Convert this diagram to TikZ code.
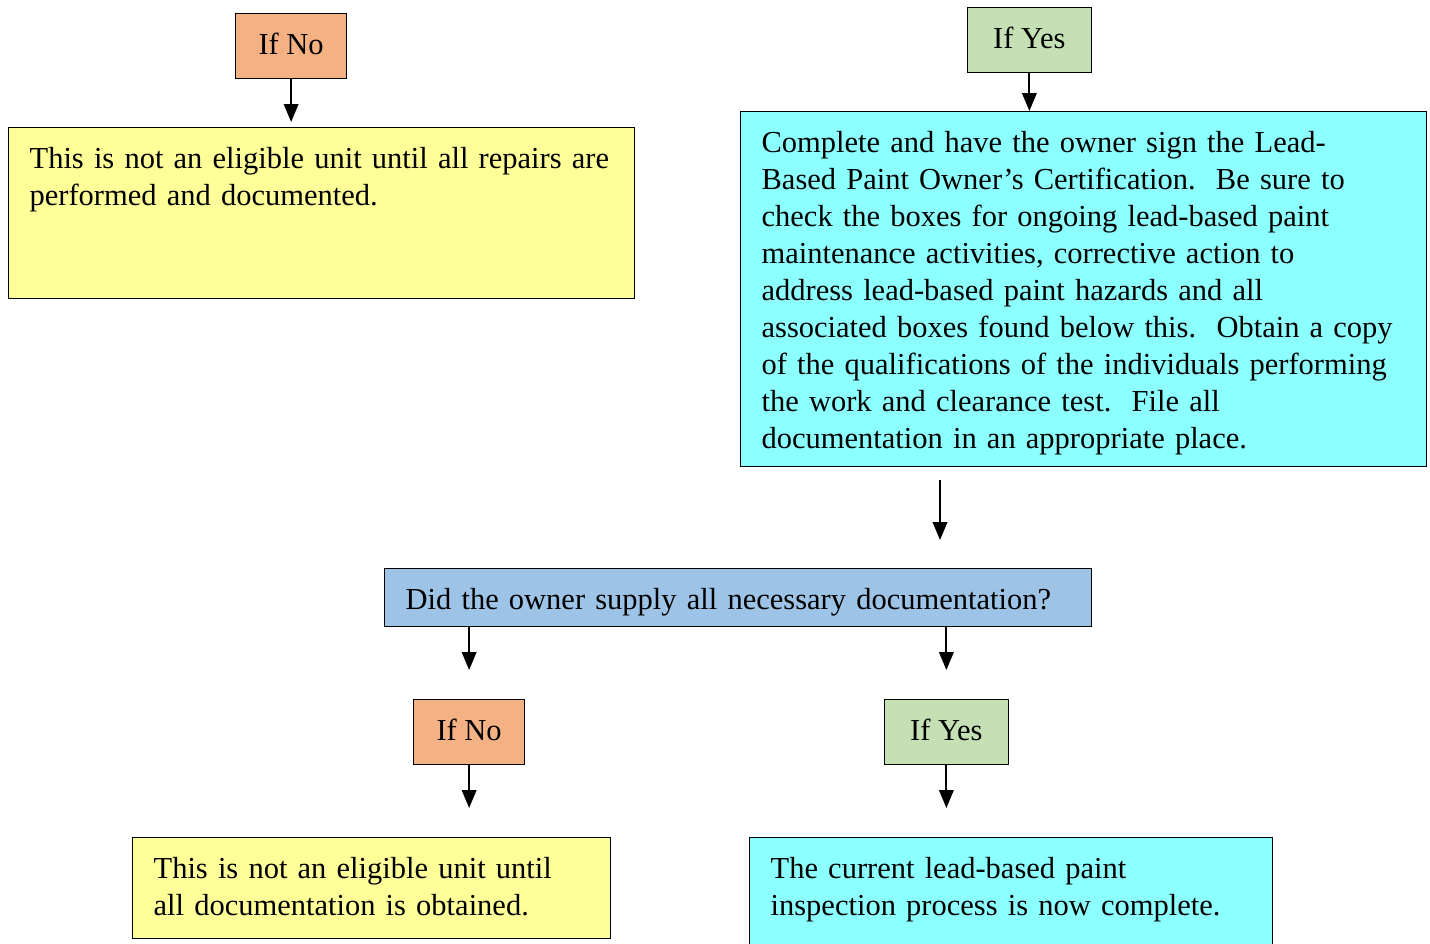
\documentclass[tikz,border=0pt]{standalone}
\usepackage{fontspec}
\setmainfont{Liberation Serif}
\usetikzlibrary{arrows.meta}
\hyphenpenalty=10000
\definecolor{noorange}{HTML}{F4B183}
\definecolor{yesgreen}{HTML}{C5E0B4}
\definecolor{noteyellow}{HTML}{FFFF99}
\definecolor{stepcyan}{HTML}{8CFFFF}
\definecolor{askblue}{HTML}{9DC3E6}
\tikzset{
  Box/.style={draw=black, line width=0.5pt, anchor=north west, align=left,
    inner xsep=8.4pt, inner ysep=6pt, text height=10.4pt, text depth=#1,
    font=\fontsize{12.2pt}{14.8pt}\selectfont}, % Textfelder
  Box/.default=3.6pt,
  NoBox/.style={Box, fill=noorange, minimum width=44.4pt},
  YesBox/.style={Box, fill=yesgreen, minimum width=49.4pt},
  Pfeil/.style={line width=0.85pt, -{Triangle[length=7.2pt,width=5.8pt]}} % Pfeile
}

\begin{document}
\begin{tikzpicture}[x=0.4pt, y=-0.4pt]
\useasboundingbox (0,0) rectangle (1430,943);

% % top row
\node[NoBox] (ifnoA) at (235,13) {If No};
\node[Box=46pt, fill=noteyellow, text width=233.6pt] (repairs) at (8,127)
  {This is not an eligible unit until all repairs are\\performed and documented.};
\node[YesBox] (ifyesA) at (967,7) {If Yes};
\node[Box=119.6pt, fill=stepcyan, text width=257.6pt] (certify) at (740,111)
  {Complete and have the owner sign the Lead-\\
   Based Paint Owner’s Certification.\ \ Be sure to\\
   check the boxes for ongoing lead-based paint\\
   maintenance activities, corrective action to\\
   address lead-based paint hazards and all\\
   associated boxes found below this.\ \ Obtain a copy\\
   of the qualifications of the individuals performing\\
   the work and clearance test.\ \ File all\\
   documentation in an appropriate place.};

% % question
\node[Box=0.8pt, fill=askblue, text width=266pt] (ask) at (384,568)
  {Did the owner supply all necessary documentation?};

% % bottom row
\node[NoBox] (ifnoB) at (413,699) {If No};
\node[YesBox] (ifyesB) at (884,699) {If Yes};
\node[Box=18pt, fill=noteyellow, text width=174.4pt] (missing) at (132,837)
  {This is not an eligible unit until\\all documentation is obtained.};
\node[Box=40pt, fill=stepcyan, text width=192.4pt] (complete) at (749,837)
  {The current lead-based paint\\inspection process is now complete.};

% Pfeile
\draw[Pfeil, shorten >=2pt] (ifnoA.south) -- (ifnoA.south |- repairs.north);
\draw[Pfeil] (ifyesA.south) -- (ifyesA.south |- certify.north);
\coordinate (gap) at (940,480);
\draw[Pfeil, shorten >=11.2pt] (gap) -- (gap |- ask.north);
\draw[Pfeil, shorten >=11.6pt] (ask.south -| ifnoB.north) -- (ifnoB.north);
\draw[Pfeil, shorten >=11.6pt] (ask.south -| ifyesB.north) -- (ifyesB.north);
\draw[Pfeil, shorten >=11.6pt] (ifnoB.south) -- (ifnoB.south |- missing.north);
\draw[Pfeil, shorten >=11.6pt] (ifyesB.south) -- (ifyesB.south |- complete.north);

\end{tikzpicture}
\end{document}
